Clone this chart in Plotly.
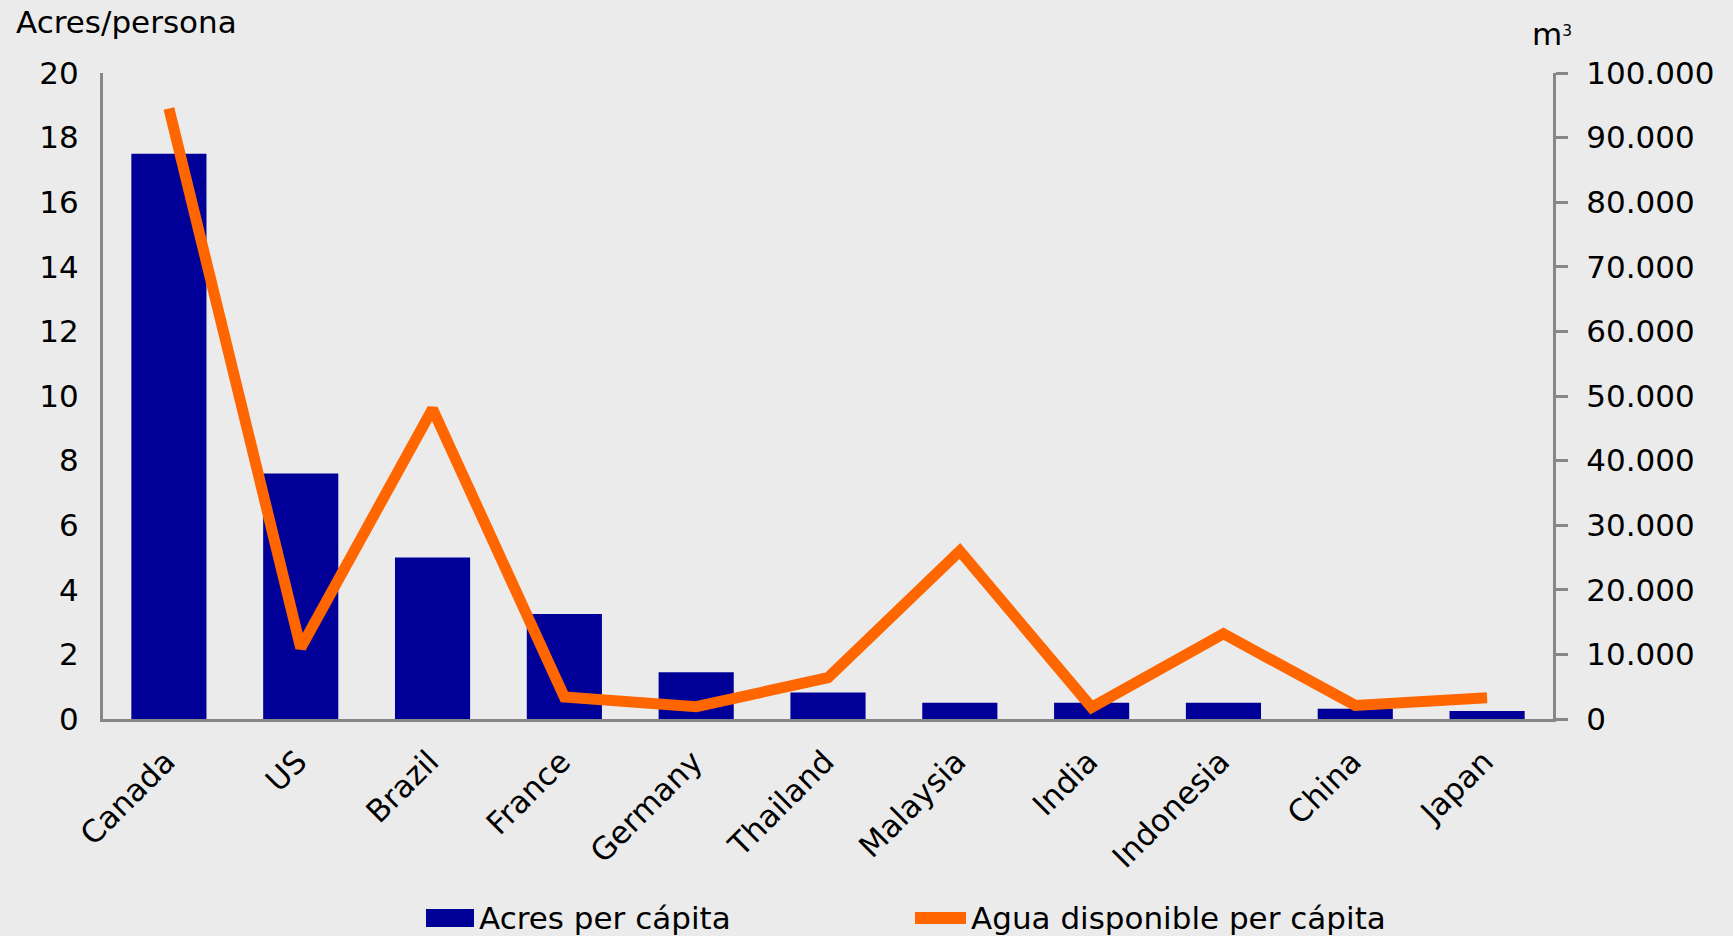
import plotly.graph_objects as go

countries = ["Canada", "US", "Brazil", "France", "Germany", "Thailand",
             "Malaysia", "India", "Indonesia", "China", "Japan"]
acres_per_capita = [17.5, 7.6, 5.0, 3.25, 1.45, 0.82, 0.5, 0.5, 0.5, 0.32, 0.25]
water_per_capita = [94500, 11000, 48000, 3400, 1900, 6400, 26000, 1800, 13200, 2100, 3300]

left_ticks = list(range(0, 21, 2))
right_ticks = list(range(0, 100001, 10000))

series_names = ["Acres per cápita", "Agua disponible per cápita"]
BAR_COLOR = "#000099"
LINE_COLOR = "#FF6600"

FONT = "DejaVu Sans"
FS = 31
AXIS_COLOR = "#878787"
BG = "#EBEBEB"

# plot area in pixels: x 103..1553, y 73..719
PW, PH = 1450.0, 646.0
def px(xpix):
    return (xpix - 103) / PW
def py(ypix):
    return (719 - ypix) / PH

fig = go.Figure()
fig.add_trace(go.Bar(
    x=countries, y=acres_per_capita, name=series_names[0],
    marker=dict(color=BAR_COLOR, line=dict(width=0)),
    yaxis="y",
))
fig.add_trace(go.Scatter(
    x=countries, y=water_per_capita, name=series_names[1],
    mode="lines", line=dict(color=LINE_COLOR, width=11),
    yaxis="y2",
))

shapes = [
    dict(type="rect", xref="paper", yref="paper",
         x0=px(426), x1=px(474), y0=py(927), y1=py(909),
         fillcolor=BAR_COLOR, line=dict(width=0)),
    dict(type="line", xref="paper", yref="paper",
         x0=px(915), x1=px(966), y0=py(918), y1=py(918),
         line=dict(color=LINE_COLOR, width=12)),
]

annotations = [
    dict(text="Acres/persona", xref="paper", yref="paper", x=px(14), y=1.0,
         xanchor="left", yanchor="bottom", yshift=31, showarrow=False,
         font=dict(size=FS, family=FONT)),
    dict(text="m<span style='font-size:22px'><sup>3</sup></span>", xref="paper", yref="paper",
         x=1.0, y=1.0, xanchor="center", yanchor="bottom", xshift=-1, yshift=19,
         showarrow=False, font=dict(size=FS, family=FONT)),
    dict(text=series_names[0], xref="paper", yref="paper", x=px(477), y=py(918),
         xanchor="left", yanchor="middle", showarrow=False,
         font=dict(size=FS, family=FONT)),
    dict(text=series_names[1], xref="paper", yref="paper", x=px(969), y=py(918),
         xanchor="left", yanchor="middle", showarrow=False,
         font=dict(size=FS, family=FONT)),
]

fig.update_layout(
    width=1733, height=936,
    paper_bgcolor=BG, plot_bgcolor=BG,
    font=dict(family=FONT, size=FS, color="black"),
    separators=",.",
    margin=dict(l=103, r=180, t=73, b=217),
    bargap=0.43,
    showlegend=False,
    hovermode=False,
    xaxis=dict(
        showline=True, linecolor=AXIS_COLOR, linewidth=3,
        ticks="", tickangle=-45, showgrid=False, zeroline=False,
        ticklabelstandoff=9, ticklabelshift=-3,
    ),
    yaxis=dict(
        range=[0, 20], tickvals=left_ticks, showline=True, linecolor=AXIS_COLOR,
        linewidth=3, ticks="", showgrid=False, zeroline=False,
        ticklabelstandoff=15,
    ),
    yaxis2=dict(
        range=[0, 100000], tickvals=right_ticks, tickformat=",d",
        overlaying="y", side="right", showline=True, linecolor=AXIS_COLOR,
        linewidth=3, ticks="outside", ticklen=12, tickwidth=3, tickcolor=AXIS_COLOR,
        showgrid=False, zeroline=False, ticklabelstandoff=12,
    ),
    shapes=shapes,
    annotations=annotations,
)

fig.write_html("out.html", config={"displayModeBar": False},
               post_script="document.body.style.margin='0px';document.body.style.overflow='hidden';")
